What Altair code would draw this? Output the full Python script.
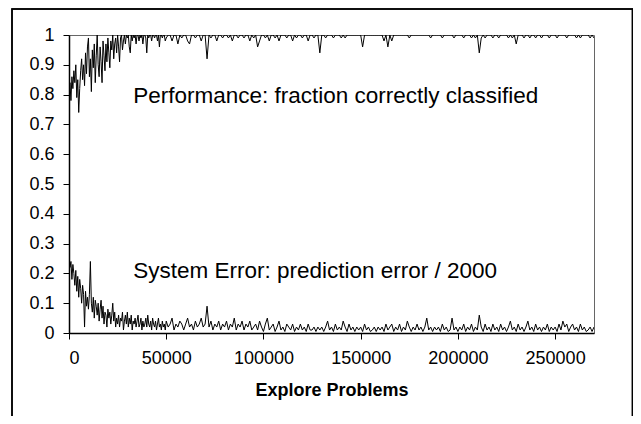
import altair as alt
import pandas as pd

# Early phase recorded every 500 problems (0 .. 49500)
perf_early = [
    0.80, 0.84, 0.78, 0.86, 0.82, 0.88, 0.84, 0.90, 0.79, 0.85,
    0.74, 0.82, 0.88, 0.92, 0.85, 0.90, 0.83, 0.94, 0.87, 0.96,
    0.99, 0.86, 0.92, 0.81, 0.95, 0.89, 0.97, 0.84, 0.93, 1.00,
    0.90, 0.86, 0.96, 0.91, 0.84, 0.98, 0.93, 0.88, 0.97, 0.91,
    0.99, 0.94, 0.89, 0.98, 0.95, 1.00, 0.92, 0.97, 0.99, 0.94,
    1.00, 0.96, 0.91, 0.99, 1.00, 0.95, 0.98, 1.00, 0.97, 1.00,
    0.99, 1.00, 0.96, 0.94, 1.00, 0.98, 1.00, 0.99, 1.00, 0.97,
    1.00, 1.00, 0.98, 1.00, 0.99, 1.00, 0.97, 1.00, 1.00, 0.99,
    0.94, 1.00, 0.99, 1.00, 1.00, 0.98, 1.00, 1.00, 0.99, 1.00,
    1.00, 0.98, 1.00, 0.96, 1.00, 1.00, 0.99, 1.00, 1.00, 0.98,
]
err_early = [
    0.25, 0.22, 0.24, 0.18, 0.23, 0.20, 0.16, 0.21, 0.14, 0.19,
    0.12, 0.18, 0.15, 0.10, 0.16, 0.13, 0.02, 0.14, 0.09, 0.12,
    0.08, 0.13, 0.24, 0.10, 0.07, 0.12, 0.05, 0.11, 0.09, 0.06,
    0.10, 0.04, 0.08, 0.11, 0.05, 0.09, 0.03, 0.07, 0.06, 0.02,
    0.08, 0.05, 0.07, 0.03, 0.06, 0.10, 0.04, 0.07, 0.02, 0.05,
    0.03, 0.06, 0.02, 0.05, 0.04, 0.07, 0.01, 0.04, 0.06, 0.03,
    0.07, 0.02, 0.05, 0.03, 0.06, 0.01, 0.04, 0.03, 0.05, 0.02,
    0.04, 0.06, 0.02, 0.03, 0.05, 0.01, 0.04, 0.02, 0.03, 0.05,
    0.02, 0.06, 0.03, 0.02, 0.04, 0.01, 0.05, 0.03, 0.02, 0.04,
    0.01, 0.03, 0.05, 0.02, 0.03, 0.01, 0.04, 0.02, 0.03, 0.01,
]

# Later phase recorded every 1000 problems (50000 .. 270000)
perf_late = [
    0.99, 1.00, 1.00, 0.98, 1.00, 1.00, 0.97, 1.00, 0.99, 1.00,
    1.00, 0.98, 0.97, 1.00, 1.00, 0.99, 1.00, 1.00, 0.98, 1.00,
    1.00, 0.92, 1.00, 0.99, 1.00, 1.00, 0.98, 1.00, 1.00, 0.99,
    1.00, 1.00, 0.99, 1.00, 0.98, 1.00, 1.00, 0.99, 1.00, 1.00,
    0.99, 1.00, 1.00, 0.98, 1.00, 0.99, 1.00, 0.96, 0.98, 1.00,
    1.00, 0.99, 1.00, 0.98, 1.00, 1.00, 0.99, 1.00, 0.98, 1.00,
    1.00, 1.00, 0.99, 1.00, 1.00, 0.98, 1.00, 0.99, 1.00, 1.00,
    0.99, 1.00, 1.00, 0.98, 1.00, 1.00, 0.99, 1.00, 1.00, 0.94,
    1.00, 1.00, 0.99, 1.00, 1.00, 1.00, 0.99, 1.00, 1.00, 1.00,
    0.99, 1.00, 0.99, 1.00, 1.00, 1.00, 1.00, 1.00, 1.00, 1.00,
    1.00, 0.96, 1.00, 1.00, 1.00, 1.00, 1.00, 1.00, 1.00, 1.00,
    1.00, 1.00, 0.98, 1.00, 0.96, 1.00, 0.98, 1.00, 1.00, 1.00,
    1.00, 1.00, 1.00, 1.00, 1.00, 0.99, 1.00, 1.00, 1.00, 1.00,
    1.00, 1.00, 1.00, 1.00, 1.00, 1.00, 0.99, 1.00, 1.00, 1.00,
    1.00, 1.00, 0.99, 1.00, 1.00, 1.00, 1.00, 1.00, 0.99, 1.00,
    1.00, 1.00, 1.00, 0.99, 1.00, 1.00, 1.00, 0.99, 1.00, 0.99,
    1.00, 0.94, 0.99, 1.00, 0.99, 1.00, 1.00, 1.00, 0.99, 1.00,
    1.00, 0.99, 1.00, 1.00, 1.00, 1.00, 0.99, 1.00, 0.99, 1.00,
    0.97, 1.00, 1.00, 1.00, 0.99, 1.00, 1.00, 0.99, 1.00, 1.00,
    0.99, 1.00, 1.00, 0.99, 1.00, 1.00, 1.00, 0.99, 1.00, 1.00,
    1.00, 0.99, 1.00, 1.00, 1.00, 1.00, 0.99, 1.00, 1.00, 1.00,
    1.00, 0.99, 1.00, 0.99, 1.00, 1.00, 1.00, 1.00, 0.99, 1.00,
    0.99,
]
err_late = [
    0.04, 0.02, 0.03, 0.05, 0.01, 0.03, 0.02, 0.04, 0.03, 0.01,
    0.03, 0.05, 0.02, 0.03, 0.01, 0.04, 0.02, 0.03, 0.05, 0.02,
    0.03, 0.09, 0.02, 0.04, 0.01, 0.03, 0.02, 0.04, 0.01, 0.03,
    0.02, 0.04, 0.01, 0.03, 0.02, 0.05, 0.01, 0.03, 0.02, 0.04,
    0.01, 0.03, 0.02, 0.04, 0.01, 0.02, 0.03, 0.01, 0.04, 0.02,
    0.005, 0.03, 0.05, 0.01, 0.02, 0.03, 0.005, 0.02, 0.04, 0.01,
    0.02, 0.005, 0.03, 0.02, 0.01, 0.03, 0.005, 0.02, 0.01, 0.03,
    0.01, 0.02, 0.005, 0.03, 0.01, 0.01, 0.02, 0.005, 0.02, 0.01,
    0.02, 0.005, 0.02, 0.04, 0.01, 0.02, 0.005, 0.03, 0.01, 0.02,
    0.01, 0.04, 0.02, 0.005, 0.03, 0.01, 0.02, 0.005, 0.02, 0.01,
    0.02, 0.005, 0.03, 0.01, 0.02, 0.005, 0.01, 0.02, 0.005, 0.02,
    0.01, 0.02, 0.005, 0.03, 0.01, 0.02, 0.03, 0.005, 0.02, 0.01,
    0.03, 0.005, 0.02, 0.01, 0.04, 0.02, 0.005, 0.02, 0.01, 0.03,
    0.01, 0.02, 0.005, 0.02, 0.05, 0.01, 0.02, 0.005, 0.02, 0.01,
    0.02, 0.005, 0.03, 0.01, 0.02, 0.005, 0.01, 0.05, 0.01, 0.02,
    0.005, 0.02, 0.01, 0.03, 0.005, 0.02, 0.01, 0.03, 0.005, 0.02,
    0.01, 0.06, 0.02, 0.005, 0.03, 0.01, 0.02, 0.005, 0.03, 0.01,
    0.02, 0.005, 0.03, 0.01, 0.02, 0.005, 0.02, 0.04, 0.01, 0.02,
    0.005, 0.03, 0.01, 0.02, 0.005, 0.02, 0.04, 0.01, 0.02, 0.005,
    0.03, 0.01, 0.02, 0.005, 0.02, 0.01, 0.03, 0.005, 0.02, 0.01,
    0.02, 0.005, 0.03, 0.01, 0.04, 0.02, 0.03, 0.005, 0.02, 0.03,
    0.01, 0.02, 0.005, 0.03, 0.01, 0.02, 0.005, 0.01, 0.02, 0.005,
    0.02,
]

x_early = [i * 500 for i in range(len(perf_early))]
x_late = [50000 + i * 1000 for i in range(len(perf_late))]

x_ticks = [0, 50000, 100000, 150000, 200000, 250000]
y_ticks = [0, 0.1, 0.2, 0.3, 0.4, 0.5, 0.6, 0.7, 0.8, 0.9, 1.0]
x_max = 270000

note_text = ["Performance: fraction correctly classified",
             "System Error: prediction error / 2000"]
note_x = [33000, 33000]
note_y = [0.795, 0.208]

FONT = "Liberation Sans"

rows = []
xs = x_early + x_late
for name, vals in (("Performance", perf_early + perf_late),
                   ("System Error", err_early + err_late)):
    for xv, v in zip(xs, vals):
        rows.append({"series": name, "problems": xv, "value": v})
df = pd.DataFrame(rows)
notes = pd.DataFrame({"text": note_text, "problems": note_x, "value": note_y})

x_scale = alt.Scale(domain=[0, x_max], nice=False, zero=False)
y_scale = alt.Scale(domain=[0, 1], nice=False)

x_axis = alt.Axis(title="Explore Problems", values=x_ticks, format="d",
                  grid=False, tickSize=6, labelPadding=10, titlePadding=14,
                  titleFontWeight="bold", labelOverlap=False)
y_axis = alt.Axis(title=None, values=y_ticks, format=".1~f", grid=False,
                  tickSize=6, labelPadding=9, labelOverlap=False)

lines = alt.Chart(df).mark_line(color="black", strokeWidth=1, clip=True).encode(
    x=alt.X("problems:Q", scale=x_scale, axis=x_axis),
    y=alt.Y("value:Q", scale=y_scale, axis=y_axis),
    detail="series:N",
)

text = alt.Chart(notes).mark_text(
    align="left", baseline="middle", font=FONT, fontSize=22.5, color="black"
).encode(
    x=alt.X("problems:Q", scale=x_scale, axis=x_axis),
    y=alt.Y("value:Q", scale=y_scale, axis=y_axis),
    text="text:N",
)

frame = alt.Chart(notes).mark_rect(
    fillOpacity=0, stroke="black", strokeWidth=1.5
).encode(
    x=alt.value(-57), x2=alt.value(563.5), y=alt.value(-26), y2=alt.value(420)
)

chart = alt.layer(frame, lines, text).properties(
    width=525, height=298,
    autosize=alt.AutoSizeParams(type="none"),
    padding={"left": 61, "top": 27, "right": 39, "bottom": 83},
).configure_view(
    stroke="#666666", strokeWidth=1
).configure_axis(
    domainColor="black", tickColor="black", labelColor="black",
    titleColor="black", labelFont=FONT, titleFont=FONT,
    labelFontSize=18, titleFontSize=18, domainWidth=1.5,
)

chart.save("out.html", embed_options={"renderer": "svg", "actions": False})
